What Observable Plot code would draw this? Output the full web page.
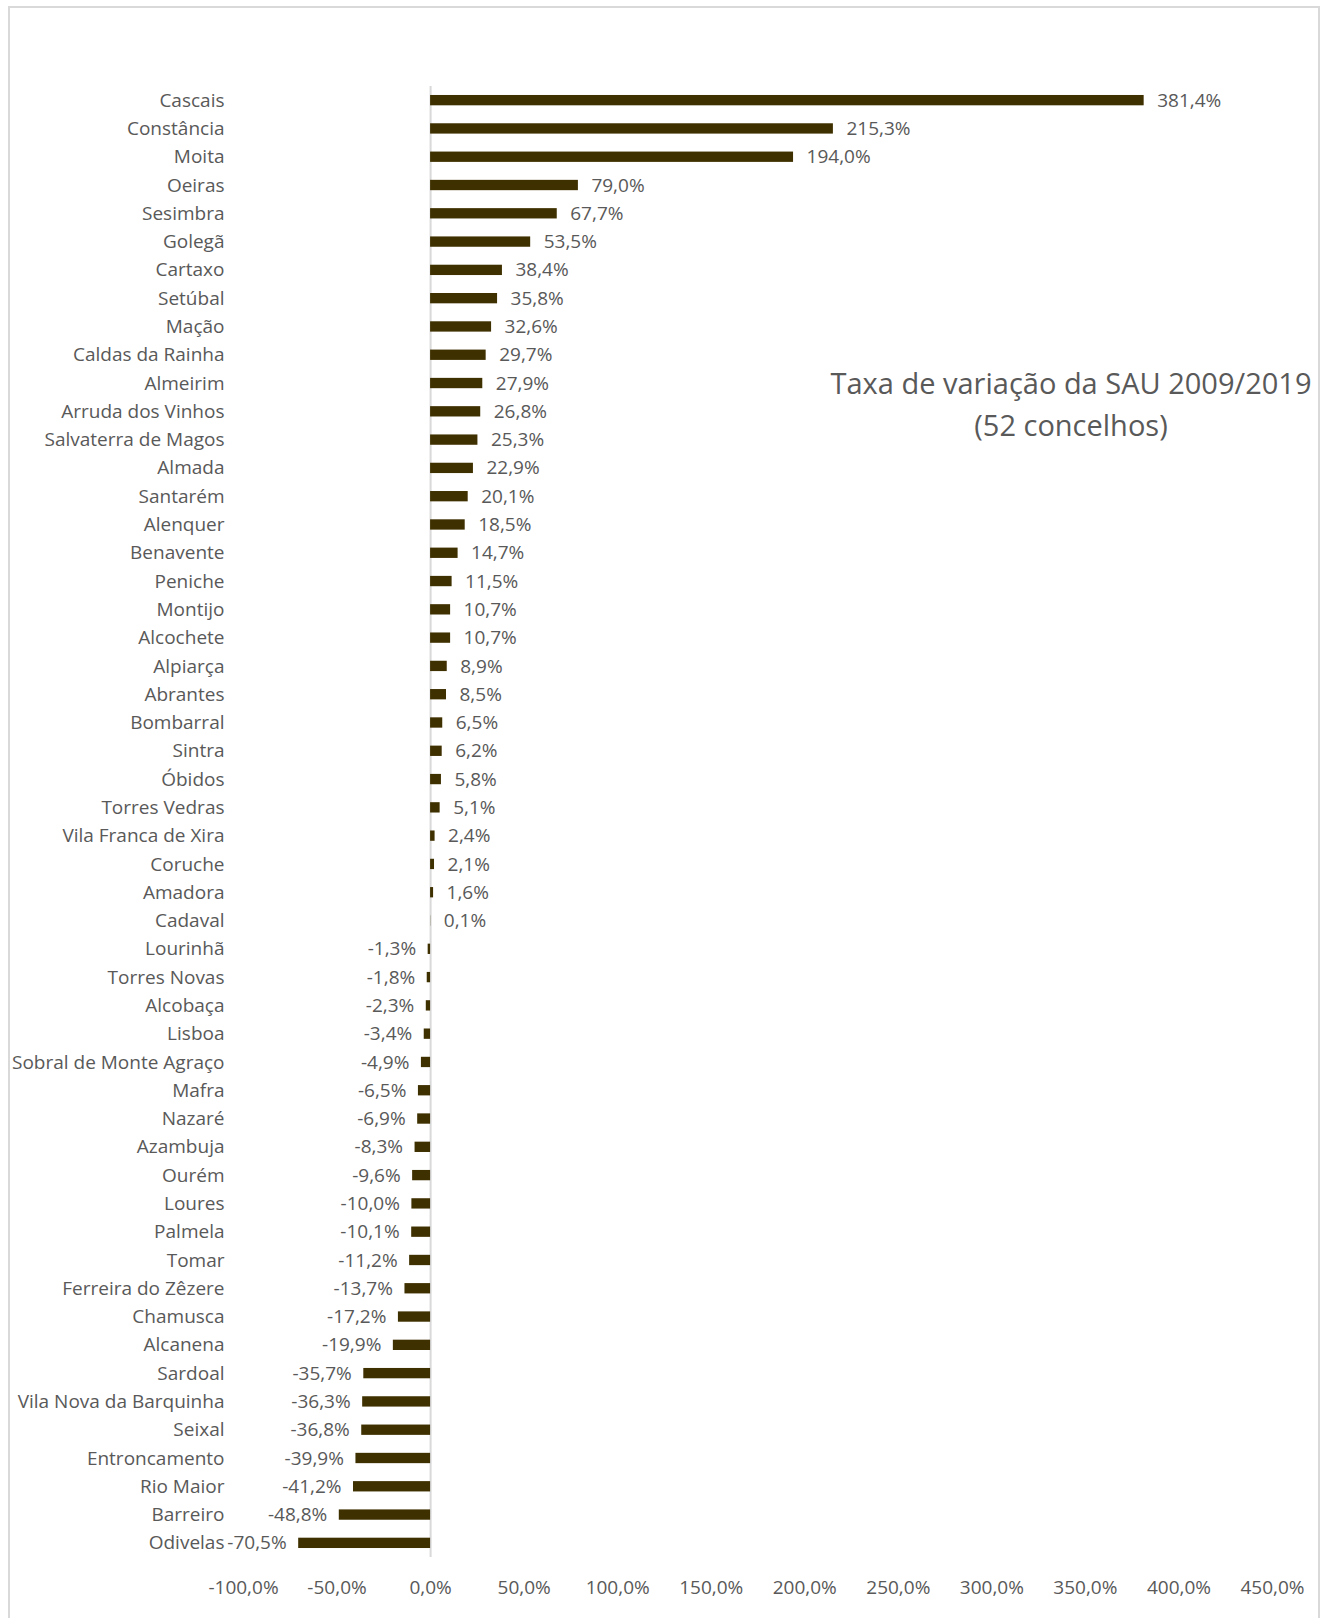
<!DOCTYPE html>
<html>
<head>
<meta charset="utf-8">
<script src="https://cdn.jsdelivr.net/npm/d3@7"></script>
<script src="https://cdn.jsdelivr.net/npm/@observablehq/plot@0.6"></script>
<style>
  html, body { margin: 0; padding: 0; background: #fff; overflow: hidden; }
  #wrap { position: relative; width: 1330px; height: 1618px; overflow: hidden; font-family: "Open Sans", Lato, sans-serif; }
  #border { position: absolute; left: 8px; top: 6px; width: 1308px; height: 1660px; border: 2px solid #d9d9d9; border-bottom: none; }
  #title { position: absolute; left: 770px; width: 602px; top: 362px; text-align: center; color: #595959; font-size: 29px; line-height: 42px; }
  #chart { position: absolute; left: 0; top: 0; }
  #chart svg { max-width: none; }
</style>
</head>
<body>
<div id="wrap">
  <div id="border"></div>
  <div id="chart"></div>
  <div id="title">Taxa de variação da SAU 2009/2019<br>(52 concelhos)</div>
</div>
<script>
const concelhos = [
  "Cascais","Constância","Moita","Oeiras","Sesimbra","Golegã","Cartaxo","Setúbal","Mação",
  "Caldas da Rainha","Almeirim","Arruda dos Vinhos","Salvaterra de Magos","Almada","Santarém",
  "Alenquer","Benavente","Peniche","Montijo","Alcochete","Alpiarça","Abrantes","Bombarral",
  "Sintra","Óbidos","Torres Vedras","Vila Franca de Xira","Coruche","Amadora","Cadaval",
  "Lourinhã","Torres Novas","Alcobaça","Lisboa","Sobral de Monte Agraço","Mafra","Nazaré",
  "Azambuja","Ourém","Loures","Palmela","Tomar","Ferreira do Zêzere","Chamusca","Alcanena",
  "Sardoal","Vila Nova da Barquinha","Seixal","Entroncamento","Rio Maior","Barreiro","Odivelas"
];
const taxas = [
  381.4, 215.3, 194.0, 79.0, 67.7, 53.5, 38.4, 35.8, 32.6,
  29.7, 27.9, 26.8, 25.3, 22.9, 20.1,
  18.5, 14.7, 11.5, 10.7, 10.7, 8.9, 8.5, 6.5,
  6.2, 5.8, 5.1, 2.4, 2.1, 1.6, 0.1,
  -1.3, -1.8, -2.3, -3.4, -4.9, -6.5, -6.9,
  -8.3, -9.6, -10.0, -10.1, -11.2, -13.7, -17.2, -19.9,
  -35.7, -36.3, -36.8, -39.9, -41.2, -48.8, -70.5
];
const xTicks = [-100, -50, 0, 50, 100, 150, 200, 250, 300, 350, 400, 450];

const data = concelhos.map((c, i) => ({concelho: c, taxa: taxas[i]}));
const fmt = v => v.toFixed(1).replace(".", ",") + "%";

const textColor = "#595959";
const barColor = "#3f3000";
const font = "'Open Sans', Lato, sans-serif";

const chart = Plot.plot({
  width: 1330,
  height: 1618,
  marginLeft: 243,
  marginRight: 58,
  marginTop: 86,
  marginBottom: 61,
  style: {fontFamily: font, fontSize: "19px", color: textColor, background: "transparent", maxWidth: "none"},
  x: {domain: [-100, 450], ticks: xTicks, tickFormat: fmt, label: null, tickSize: 0, tickPadding: 23},
  y: {domain: concelhos, label: null, tickSize: 0, tickPadding: 19, paddingInner: 0.635, paddingOuter: 0.3175, round: false},
  marks: [
    Plot.ruleX([0], {stroke: "#d9d9d9", strokeWidth: 2}),
    Plot.barX(data, {x: "taxa", y: "concelho", fill: barColor}),
    Plot.text(data.filter(d => d.taxa >= 0), {
      x: "taxa", y: "concelho", text: d => fmt(d.taxa),
      textAnchor: "start", dx: 13, fill: textColor, fontSize: 19
    }),
    Plot.text(data.filter(d => d.taxa < 0), {
      x: "taxa", y: "concelho", text: d => fmt(d.taxa),
      textAnchor: "end", dx: -12, fill: textColor, fontSize: 19
    })
  ]
});
document.getElementById("chart").appendChild(chart);
</script>
</body>
</html>
